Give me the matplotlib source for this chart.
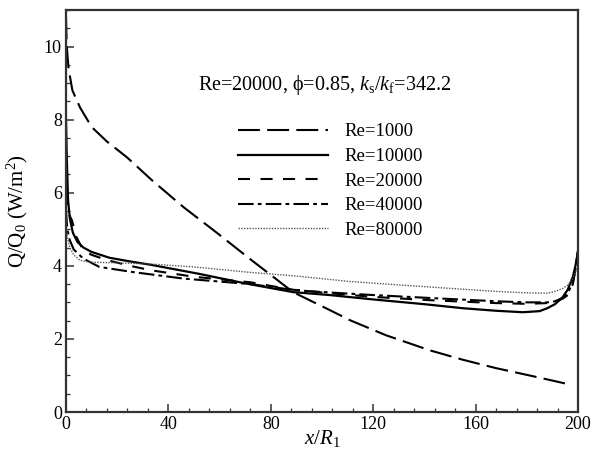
import matplotlib
matplotlib.use("Agg")
import matplotlib.pyplot as plt
from matplotlib.ticker import MultipleLocator

plt.rcParams['font.family'] = ['Liberation Serif', 'DejaVu Serif']
plt.rcParams['mathtext.fontset'] = 'custom'
plt.rcParams['mathtext.rm'] = 'Liberation Serif'
plt.rcParams['mathtext.it'] = 'Liberation Serif:italic'

# ---- data ----
x_1000 = [0, 0.3, 1, 2.5, 5.5, 10, 16, 23.8, 33.6, 46, 59, 72, 88.7, 103, 111, 125, 142, 155, 168, 183, 197.6]
y_1000 = [10.8, 10.0, 9.4, 8.8, 8.33, 7.8, 7.4, 6.97, 6.34, 5.6, 4.9, 4.18, 3.28, 2.79, 2.51, 2.1, 1.69, 1.43, 1.2, 0.97, 0.74]

x_10000 = [0, 0.3, 0.8, 1.5, 2.7, 4.5, 6.8, 10, 17, 25, 33, 52, 70, 88.7, 103, 120, 140, 155, 168, 178.5, 185, 188, 191, 194, 196, 198, 199, 200]
y_10000 = [8.0, 7.0, 5.8, 5.3, 4.9, 4.65, 4.5, 4.38, 4.22, 4.12, 4.03, 3.78, 3.52, 3.28, 3.2, 3.08, 2.95, 2.84, 2.77, 2.73, 2.76, 2.84, 2.95, 3.14, 3.35, 3.7, 4.0, 4.4]

x_20000 = [0, 0.5, 1.2, 2.3, 4, 6.7, 10, 16.4, 25, 33, 50, 72, 88, 103, 120, 142, 168, 180, 188, 191, 194, 196, 198, 199, 200]
y_20000 = [6.0, 5.6, 5.4, 5.25, 4.8, 4.43, 4.3, 4.15, 4.0, 3.88, 3.7, 3.55, 3.35, 3.25, 3.15, 3.06, 2.98, 2.96, 2.98, 3.02, 3.1, 3.2, 3.5, 3.9, 4.4]

x_40000 = [0, 0.5, 1.5, 3, 6.7, 13, 26, 46, 72, 90, 103, 120, 142, 168, 180, 188, 191, 194, 196, 198, 199, 200]
y_40000 = [5.5, 5.0, 4.7, 4.45, 4.2, 3.97, 3.83, 3.65, 3.5, 3.33, 3.27, 3.2, 3.12, 3.03, 3.0, 3.0, 3.03, 3.12, 3.25, 3.55, 3.9, 4.4]

x_80000 = [0, 0.5, 1.5, 3, 5.5, 9.4, 20, 33, 50, 72, 90, 111, 142, 168, 180, 188, 191, 194, 196, 198, 200]
y_80000 = [5.0, 4.8, 4.5, 4.3, 4.15, 4.1, 4.08, 4.05, 3.97, 3.82, 3.72, 3.57, 3.42, 3.3, 3.26, 3.25, 3.3, 3.38, 3.47, 3.65, 4.0]

labels = ['Re=1000', 'Re=10000', 'Re=20000', 'Re=40000', 'Re=80000']
title_text = 'Re=20000, \u03d5=0.85, $k_\\mathrm{s}/k_\\mathrm{f}$=342.2'

# ---- figure ----
fig = plt.figure(figsize=(5.95, 4.61), dpi=100)
ax = fig.add_axes([66/595, 49/461, 512/595, 402/461])

ax.plot(x_1000, y_1000, color='black', lw=1.5, linestyle=(0, (10.5, 3.5)), label=labels[0])
ax.plot(x_10000, y_10000, color='black', lw=1.6, linestyle='-', label=labels[1])
ax.plot(x_20000, y_20000, color='black', lw=1.5, linestyle=(0, (5.8, 5.0)), label=labels[2])
ax.plot(x_40000, y_40000, color='black', lw=1.5, linestyle=(0, (7.5, 2.0, 1.8, 2.0)), label=labels[3])
ax.plot(x_80000, y_80000, color='#555555', lw=1.0, linestyle=(0, (1, 1)), label=labels[4])

ax.set_xlim(0, 200)
ax.set_ylim(0, 11)
ax.xaxis.set_major_locator(MultipleLocator(40))
ax.xaxis.set_minor_locator(MultipleLocator(8))
ax.yaxis.set_major_locator(MultipleLocator(2))
ax.yaxis.set_minor_locator(MultipleLocator(0.5))
ax.tick_params(which='both', direction='in', labelsize=13, top=False, right=False, color='#333333')
ax.tick_params(which='major', length=6, width=1.1, pad=3)
ax.tick_params(which='minor', length=3, width=0.9)
for s in ax.spines.values():
    s.set_linewidth(1.6)
    s.set_color('#333333')

ax.set_xlabel('$x/R_1$', fontsize=15)
ax.xaxis.set_label_coords(0.5, -0.04)
ax.set_ylabel('Q/Q$_0$ (W/m$^2$)', fontsize=15)
ax.yaxis.set_label_coords(-0.07, 0.5)

ax.text((325-66)/512, 1-(85-10)/402, title_text, transform=ax.transAxes,
        ha='center', va='center', fontsize=14.5)
ax.legend(loc='upper left', bbox_to_anchor=(0.336, 0.718), frameon=False,
          fontsize=13.5, handlelength=4.8, handletextpad=0.9, labelspacing=0.4,
          borderpad=0, borderaxespad=0)

fig.savefig('out.png', dpi=100)
